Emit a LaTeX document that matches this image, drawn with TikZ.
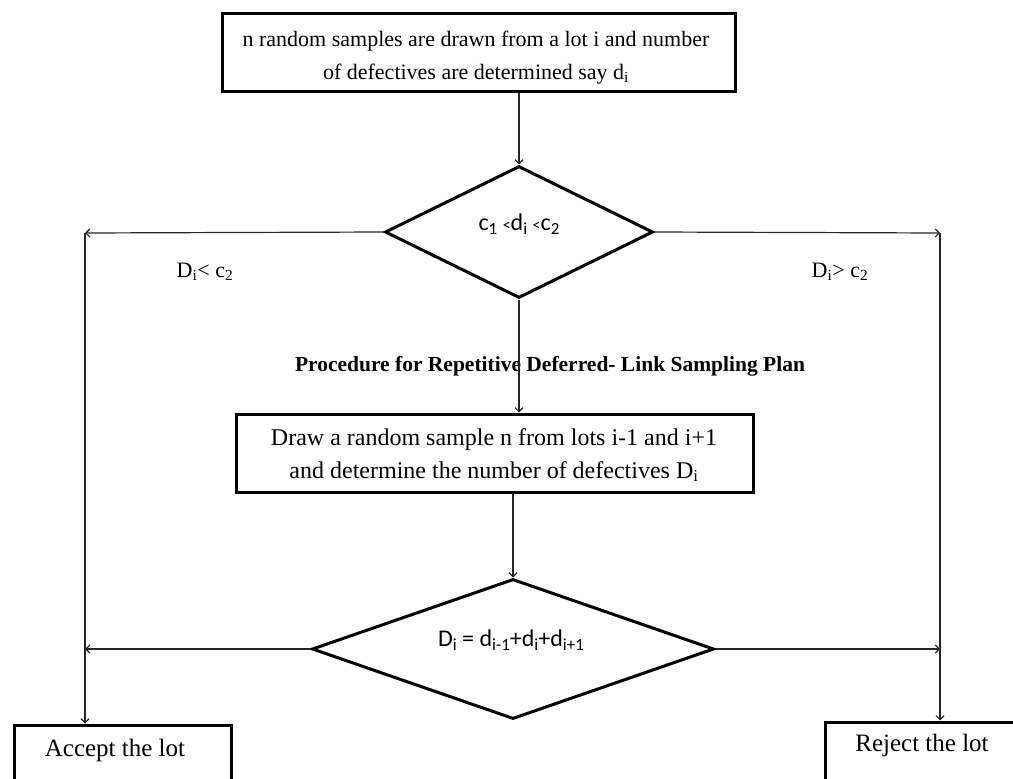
\documentclass[tikz,border=0pt]{standalone}
\usepackage{fontspec}
\setmainfont{Liberation Serif}
\newfontfamily\calfont{Carlito}
\usetikzlibrary{shapes.geometric,arrows.meta}
\newcommand{\fsz}[2]{\fontsize{#1}{#2}\selectfont}
\newcommand{\csub}[1]{\raisebox{-0.35ex}{\fsz{17}{20}#1}}
\begin{document}
\begin{tikzpicture}[x=1pt,y=-1pt,
  box/.style={draw, line width=3pt, rectangle, inner sep=0pt, align=center},
  dia/.style={draw, line width=3pt, diamond, inner sep=0pt},
  txt/.style={inner sep=0pt, align=center},
  conn/.style={draw=black!85, line width=1.2pt, -{Straight Barb[length=4pt,width=8pt]}},
]
\clip (0,0) rectangle (1013,779);
\fill[white] (0,0) rectangle (1013,779);

% boxes
\node[box, minimum width=513pt, minimum height=78pt] (top) at (478.5,52) {};
\node[txt, font=\fsz{22}{33}] (toptxt) at (476,58)
  {n random samples are drawn from a lot i and number\\ of defectives are determined say d\textsubscript{i}};
\node[box, minimum width=517pt, minimum height=78pt] (mid) at (494.5,453) {};
\node[txt, font=\fsz{24}{33}] (midtxt) at (494,455)
  {Draw a random sample n from lots i-1 and i+1\\ and determine the number of defectives D\textsubscript{i}};
\node[box, minimum width=217pt, minimum height=80pt] (acc) at (122.5,765) {};
\node[txt, font=\fsz{25}{30}] (acctxt) at (115,750) {Accept the lot};
\node[box, minimum width=217pt, minimum height=80pt] (rej) at (933.5,762) {};
\node[txt, font=\fsz{25}{30}] (rejtxt) at (922,745) {Reject the lot};

% diamonds
\node[dia, minimum width=268pt, minimum height=132pt] (d1) at (519,232) {};
\node[txt, font=\calfont\fsz{24}{28}] (d1t) at (519,224)
  {c\csub{1} {\fsz{16}{18}<}d\csub{i} {\fsz{16}{18}<}c\csub{2}};
\node[dia, minimum width=402pt, minimum height=140pt] (d2) at (513,649) {};
\node[txt, font=\calfont\fsz{24}{28}] (d2t) at (511,640)
  {D\csub{i} = d\csub{i-1}+d\csub{i}+d\csub{i+1}};

% labels
\node[txt, font=\fsz{22}{26}] (lblL) at (205,272) {D\textsubscript{i}< c\textsubscript{2}};
\node[txt, font=\fsz{22}{26}] (lblR) at (840,272) {D\textsubscript{i}> c\textsubscript{2}};
\node[txt, font=\bfseries\fsz{21.5}{24}] (title) at (550,366)
  {Procedure for Repetitive Deferred- Link Sampling Plan};

% corners
\coordinate (L1) at (85,233);
\coordinate (R1) at (940,233);

% connectors
\draw[conn] (top.south -| d1.north) -- (d1.north);
\draw[conn] (d1.west) -- (L1);
\draw[conn] (d1.east) -- (R1);
\draw[conn] (L1) -- (L1 |- acc.north);
\draw[conn] (R1) -- (R1 |- rej.north);
\draw[conn] (d1.south) -- (d1.south |- mid.north);
\draw[conn] (mid.south -| d2.north) -- (d2.north);
\draw[conn] (d2.west) -- (d2.west -| L1);
\draw[conn] (d2.east) -- (d2.east -| R1);
\end{tikzpicture}
\end{document}
